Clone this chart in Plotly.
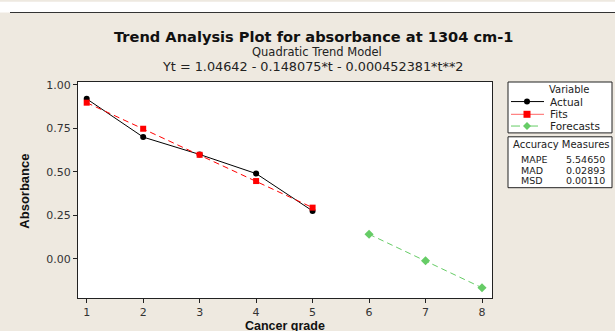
import plotly.graph_objects as go

# ---------------- data ----------------
t_actual = [1, 2, 3, 4, 5]
actual = [0.92, 0.70, 0.60, 0.49, 0.275]
t_fits = [1, 2, 3, 4, 5]
fits = [0.898, 0.748, 0.598, 0.447, 0.294]
t_fore = [6, 7, 8]
forecasts = [0.141, -0.012, -0.167]
x_ticks = [1, 2, 3, 4, 5, 6, 7, 8]
y_ticks = [0.00, 0.25, 0.50, 0.75, 1.00]
acc_names = ["MAPE", "MAD", "MSD"]
acc_values = ["5.54650", "0.02893", "0.00110"]
legend_names = ["Actual", "Fits", "Forecasts"]

W, H = 615, 331
L, R, T, B = 78, 492, 82, 302.7
BG = "#EEE9E0"
FONT = "DejaVu Sans"
BLACK = "#000000"
RED = "#FF0000"
GREEN = "#66CC66"


def px(x):
    return (x - L) / (R - L)


def py(y):
    return (B - y) / (B - T)


fig = go.Figure()
fig.add_trace(go.Scatter(x=t_actual, y=actual, mode="lines+markers", name="Actual",
                         line=dict(color=BLACK, width=1),
                         marker=dict(symbol="circle", size=6, color=BLACK)))
fig.add_trace(go.Scatter(x=t_fits, y=fits, mode="lines+markers", name="Fits",
                         line=dict(color=RED, width=1, dash="6px,4px"),
                         marker=dict(symbol="square", size=6, color=RED)))
fig.add_trace(go.Scatter(x=t_fore, y=forecasts, mode="lines+markers", name="Forecasts",
                         line=dict(color=GREEN, width=1, dash="6px,4px"),
                         marker=dict(symbol="diamond", size=7, color=GREEN)))

shapes = []
annotations = []


def note(text, x, y, size, family=FONT, color="#222222", xanchor="center", angle=0):
    annotations.append(dict(text=text, xref="paper", yref="paper", x=px(x), y=py(y),
                            xanchor=xanchor, yanchor="middle", showarrow=False, textangle=angle,
                            borderpad=0, font=dict(family=family, size=size, color=color)))


# top white band and dark rule
shapes.append(dict(type="rect", xref="paper", yref="paper", x0=px(0), x1=px(W), y0=py(11), y1=py(0),
                   fillcolor="white", line=dict(width=0), layer="below"))
shapes.append(dict(type="line", xref="paper", yref="paper", x0=px(10), x1=px(W), y0=py(11), y1=py(11),
                   line=dict(color="#333333", width=1)))

# legend box
shapes.append(dict(type="rect", xref="paper", yref="paper", x0=px(508), x1=px(612), y0=py(134), y1=py(82),
                   fillcolor="white", line=dict(color="#222222", width=1)))
note("Variable", 569, 90, 10)
rows = [102, 115, 127]
styles = [(BLACK, "solid", "circle"), ("#FF6666", "solid", "square"), (GREEN, "dash", "diamond")]
for name, yrow, (col, dash, sym) in zip(legend_names, rows, styles):
    shapes.append(dict(type="line", xref="paper", yref="paper", x0=px(511), x1=px(544), y0=py(yrow), y1=py(yrow),
                       line=dict(color=col, width=1, dash=dash)))
    mc = RED if sym == "square" else col
    if sym == "circle":
        shapes.append(dict(type="circle", xref="paper", yref="paper", xsizemode="pixel", ysizemode="pixel",
                           xanchor=px(527), yanchor=py(yrow), x0=-3, x1=3, y0=-3, y1=3,
                           fillcolor=mc, line=dict(width=0)))
    elif sym == "square":
        shapes.append(dict(type="rect", xref="paper", yref="paper", xsizemode="pixel", ysizemode="pixel",
                           xanchor=px(527), yanchor=py(yrow), x0=-3.5, x1=3.5, y0=-3.5, y1=3.5,
                           fillcolor=mc, line=dict(width=0)))
    else:
        shapes.append(dict(type="path", xref="paper", yref="paper", xsizemode="pixel", ysizemode="pixel",
                           xanchor=px(527), yanchor=py(yrow), path="M0,4 L4,0 L0,-4 L-4,0 Z",
                           fillcolor=mc, line=dict(width=0)))
    note(name, 549, yrow, 10.5, xanchor="left")

# accuracy box
shapes.append(dict(type="rect", xref="paper", yref="paper", x0=px(508), x1=px(612), y0=py(190), y1=py(138),
                   fillcolor="white", line=dict(color="#222222", width=1)))
note("Accuracy Measures", 561, 146, 10)
for nm, val, yrow in zip(acc_names, acc_values, [161, 172, 183]):
    note(nm, 520, yrow, 9.5, xanchor="left")
    note(val, 565, yrow, 9.5, xanchor="left")

# titles
note("<b>Trend Analysis Plot for absorbance at 1304 cm-1</b>", 314, 35, 14.6, color="#111111")
note("Quadratic Trend Model", 317, 51, 11.5)
note("Yt = 1.04642 - 0.148075*t - 0.000452381*t**2", 312.5, 66.5, 12.8)
note("<b>Absorbance</b>", 25, 193, 13, family="Liberation Sans", color="#111111", angle=-90)
note("<b>Cancer grade</b>", 285, 331, 12.5, family="Liberation Sans", color="#111111")

fig.update_layout(
    width=W, height=H,
    margin=dict(l=L, r=W - R, t=T, b=H - B, pad=0),
    paper_bgcolor=BG, plot_bgcolor="white",
    showlegend=False,
    shapes=shapes, annotations=annotations,
    font=dict(family=FONT, size=11, color="#333333"),
)
fig.update_xaxes(range=[0.846, 8.177], tickvals=x_ticks, ticktext=[str(v) for v in x_ticks],
                 showgrid=False, zeroline=False, showline=True, linecolor="#222222", linewidth=1,
                 mirror=True, ticks="outside", ticklen=4, tickcolor="#222222",
                 tickfont=dict(family=FONT, size=11, color="#333333"))
fig.update_yaxes(range=[-0.226, 1.017], tickvals=y_ticks, ticktext=[f"{v:.2f}" for v in y_ticks],
                 showgrid=False, zeroline=False, showline=True, linecolor="#222222", linewidth=1,
                 mirror=True, ticks="outside", ticklen=4, tickcolor="#222222",
                 tickfont=dict(family=FONT, size=11, color="#333333"))

fig.write_html("out.html")
